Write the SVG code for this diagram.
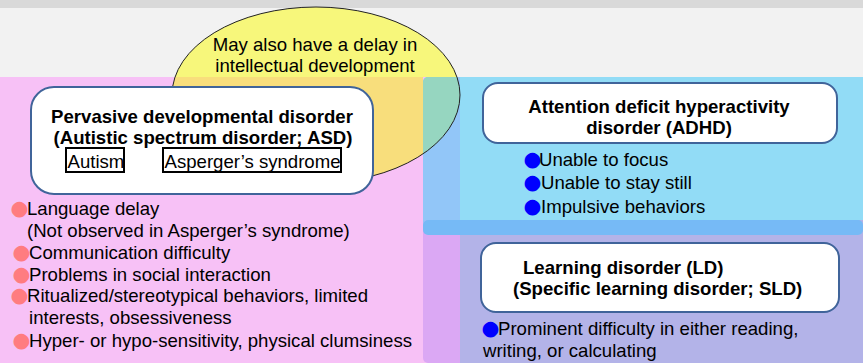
<svg xmlns="http://www.w3.org/2000/svg" width="863" height="363" viewBox="0 0 863 363">
<style>
text{font-family:"Liberation Sans",Arial,sans-serif;font-size:18.6px;fill:#000}
.b{font-weight:bold}
.box{fill:#fff;stroke:#40649a;stroke-width:2}
.tag{fill:#fff;stroke:#000;stroke-width:2}
.bp{font-family:"DejaVu Sans",sans-serif;fill:#ff7c80;font-size:20.5px}
.bb{font-family:"DejaVu Sans",sans-serif;fill:#0000ff;font-size:20.5px}
</style>
<defs>
<clipPath id="cTop"><rect x="0" y="0" width="863" height="77"/></clipPath>
<clipPath id="cPink"><rect x="0" y="77" width="423" height="286"/></clipPath>
<clipPath id="cBlue"><rect x="423" y="77" width="440" height="286" rx="5"/></clipPath>
</defs>
<g id="background">
<rect x="0" y="0" width="863" height="363" fill="#f2f2f2"/>
<rect x="0" y="0" width="863" height="8" fill="#d9d9d9"/>
<rect x="0" y="77" width="460" height="286" fill="#f7c1f6"/>
<rect x="423" y="77" width="440" height="158" rx="5" fill="#92c6f8"/>
<rect x="460" y="77" width="403" height="158" fill="#92dcf6"/>
<rect x="423" y="220" width="440" height="143" rx="5" fill="#dba8f4"/>
<rect x="460" y="220" width="403" height="143" fill="#b3b3e8"/>
<rect x="423" y="220" width="440" height="15" rx="5" fill="#76baf6"/>
</g>
<g id="overlap-ellipse">
<ellipse cx="316" cy="95" rx="144" ry="88" fill="#f7f77b" clip-path="url(#cTop)"/>
<ellipse cx="316" cy="95" rx="144" ry="88" fill="#f8de7c" clip-path="url(#cPink)"/>
<ellipse cx="316" cy="95" rx="144" ry="88" fill="#96d6c0" clip-path="url(#cBlue)"/>
<ellipse cx="316" cy="95" rx="144" ry="88" fill="none" stroke="#222" stroke-width="1"/>
<text x="315" y="51" text-anchor="middle">May also have a delay in</text>
<text x="315" y="72" text-anchor="middle">intellectual development</text>
</g>
<g id="pdd">
<rect class="box" x="31" y="87" width="342" height="107" rx="23"/>
<text class="b" x="202" y="123" text-anchor="middle">Pervasive developmental disorder</text>
<text class="b" x="203" y="144" text-anchor="middle">(Autistic spectrum disorder; ASD)</text>
<rect class="tag" x="66" y="148" width="58" height="24"/>
<text x="67.5" y="168">Autism</text>
<rect class="tag" x="163" y="148" width="178" height="24"/>
<text x="164.5" y="168">Asperger’s syndrome</text>
</g>
<g id="pdd-list">
<text y="215"><tspan class="bp" x="10.5">●</tspan><tspan x="27">Language delay</tspan></text>
<text x="27" y="237">(Not observed in Asperger’s syndrome)</text>
<text y="259"><tspan class="bp" x="12.5">●</tspan><tspan x="29">Communication difficulty</tspan></text>
<text y="281"><tspan class="bp" x="12.5">●</tspan><tspan x="29">Problems in social interaction</tspan></text>
<text y="302"><tspan class="bp" x="10.5">●</tspan><tspan x="27">Ritualized/stereotypical behaviors, limited</tspan></text>
<text x="29" y="324">interests, obsessiveness</text>
<text y="347"><tspan class="bp" x="12.5">●</tspan><tspan x="29">Hyper- or hypo-sensitivity, physical clumsiness</tspan></text>
</g>
<g id="adhd">
<rect class="box" x="483" y="83" width="354" height="60" rx="15"/>
<text class="b" x="659" y="113" text-anchor="middle">Attention deficit hyperactivity</text>
<text class="b" x="659" y="134" text-anchor="middle">disorder (ADHD)</text>
<text y="166"><tspan class="bb" x="523.5">●</tspan><tspan x="539">Unable to focus</tspan></text>
<text y="189"><tspan class="bb" x="523.5">●</tspan><tspan x="541">Unable to stay still</tspan></text>
<text y="213"><tspan class="bb" x="523.5">●</tspan><tspan x="541">Impulsive behaviors</tspan></text>
</g>
<g id="ld">
<rect class="box" x="481" y="243" width="358" height="69" rx="15"/>
<text class="b" x="523" y="274">Learning disorder (LD)</text>
<text class="b" x="513" y="295">(Specific learning disorder; SLD)</text>
<text y="335"><tspan class="bb" x="481.5">●</tspan><tspan x="498">Prominent difficulty in either reading,</tspan></text>
<text x="483" y="357">writing, or calculating</text>
</g>
<g id="connectors"/>
</svg>
